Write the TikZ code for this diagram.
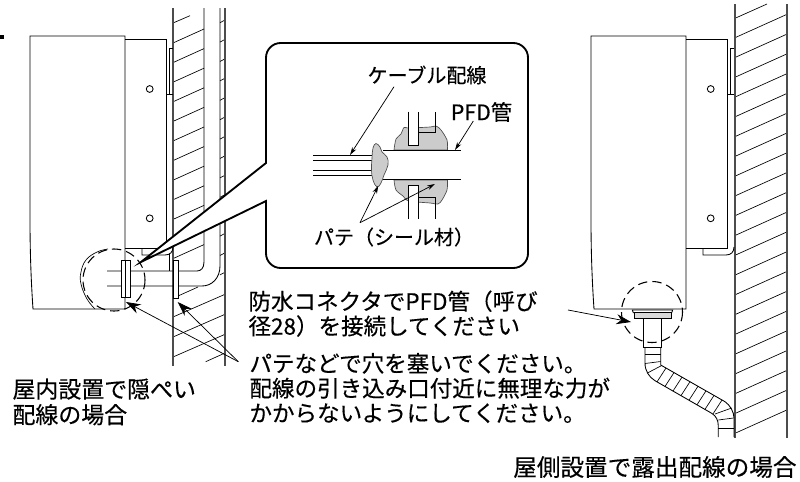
\documentclass[tikz,border=0pt]{standalone}
\usepackage{fontspec}
\setmainfont{Noto Sans CJK JP}[FakeBold=0.35]
\usetikzlibrary{arrows.meta}

\tikzset{every picture/.style={line width=0.75pt}}
\tikzset{
	wallline/.style={line width=0.9pt,color=black!70},
	hatchline/.style={line width=0.5pt},
	boxline/.style={line width=0.65pt},
	circledash/.style={line width=0.8pt,dash pattern={on 7pt off 3.8pt}},
	bigarrow/.style={line width=0.55pt,-{Stealth[length=11pt,width=7.5pt]}},
	smallarrow/.style={line width=0.55pt,-{Stealth[length=6pt,width=3.5pt]}},
	bodytext/.style={anchor=north west,inner sep=0pt,align=left,font=\fontsize{16.9}{18.6}\selectfont},
	smalltext/.style={inner sep=0pt,font=\fontsize{15}{18}\selectfont},
	putty/.style={fill=black!20,draw=black!70,line width=0.5pt}
}

\begin{document}
\begin{tikzpicture}[x=0.75pt,y=0.75pt,yscale=-1,xscale=1]
	\useasboundingbox (0,0) rectangle (800,482);

	%Small mark at left edge
	\fill (0,35) rectangle (4,39);

	%Left wall: hatching
	\draw [hatchline] (173,23) -- (190,15.7);
	\foreach \i in {0,...,11} {
		\draw [hatchline] (173,43+19.6*\i) -- (204,29+19.6*\i);
	}
	\foreach \i in {0,...,13} {
		\draw [hatchline] (220,22.7+19.4*\i) -- (225,20+19.4*\i);
	}
	\draw [hatchline] (178,296) -- (198,287);
	\foreach \i in {0,1,2} {
		\draw [hatchline] (173,317+20*\i) -- (225,294.3+20*\i);
	}
	\draw [hatchline] (205.7,361.7) -- (225,353);
	%Left wall: lines and conduit
	\draw [wallline] (173,8) -- (173,366);
	\draw [wallline] (225,8) -- (225,366);
	\draw [boxline] (204,8) -- (204,262) .. controls (204,268) and (201,271) .. (197,271) -- (107,271);
	\draw [boxline] (220,8) -- (220,266) .. controls (220,278) and (212,286) .. (202,286) -- (107,286);

	%Right wall
	\draw [hatchline] (735,18.3) -- (767,4);
	\foreach \i in {0,...,20} {
		\draw [hatchline] (735,37.7+19.78*\i) -- (787,14.3+19.78*\i);
	}
	\draw [wallline] (735,4) -- (735,438);
	\draw [wallline] (787,4) -- (787,438);

	%Unit body, drawn twice
	\foreach \dx in {0,561} {
		\begin{scope}[shift={(\dx,0)}]
			\draw [boxline] (33,309) .. controls (31,280) and (30,250) .. (30,220) -- (30,36) -- (125,36) -- (125,309) -- cycle;
			\draw [boxline] (125,39) -- (166.7,39) -- (166.7,248) -- (125,248);
			\draw [boxline] (149.7,89) circle [radius=3.4];
			\draw [boxline] (149.7,218.3) circle [radius=3.4];
			\draw [line width=0.5pt] (166.7,94.3) -- (173,94.3);
			\draw [line width=0.5pt] (173,48.3) -- (169.5,48.3) -- (169.5,94.3);
			\draw [boxline] (142,248) -- (142,255) -- (165,255) .. controls (170,255) and (173,252) .. (173,247);
		\end{scope}
	}

	%Left connector
	\draw [line width=0.5pt] (169.5,254) -- (169.5,271);
	\fill [black!35] (121,270) -- (121,266) -- (125,260) -- (125,270) -- cycle;
	\fill [black!35] (121,286.7) -- (125,286.7) -- (125,296) -- cycle;
	\draw [fill=white,line width=0.6pt] (121,260.7) rectangle (130,297);
	\draw [fill=white,line width=0.6pt] (173.3,260) rectangle (178,298);
	\draw [boxline] (125.5,260.7) -- (125.5,297);
	%Break line and dashed circle, left
	\draw [line width=0.5pt] plot [smooth,tension=0.7] coordinates {(95,309) (87,299) (81,284) (81,272) (86,260) (97,252) (108,249)};
	\draw [circledash] (114,280) circle [radius=31];

	%Right connector and flexible tube
	\draw [boxline,fill=white] (632.3,310) -- (672.7,310) -- (671.7,312.7) -- (633.3,312.7) -- cycle;
	\draw [boxline,fill=black!15] (634,312.7) rectangle (671.5,318.3);
	\draw [boxline] (643.3,318.3) -- (643.3,347);
	\draw [boxline] (661.7,318.3) -- (661.7,347);
	\draw [boxline] (643.3,347) -- (661.7,347);
	\draw [boxline] (645,347) -- (645,363) .. controls (645,371) and (649,377) .. (655,380.7) -- (711.7,413.3) .. controls (716,416) and (718.3,420) .. (718.3,426) -- (718.3,437);
	\draw [boxline] (660.7,347) -- (660.7,365) -- (725,401.7) .. controls (730,405) and (734,412) .. (734,418) -- (734,437);
	\draw [hatchline] (645,354) -- (660.7,354);
	\draw [hatchline] (645,363.5) -- (660.7,361.5);
	\draw [hatchline] (648,372.7) -- (661.7,365.5);
	\foreach \i in {0,...,7} {
		\draw [hatchline] (666+8*\i,368+4.57*\i) -- (657+8*\i,381.9+4.57*\i);
	}
	\draw [hatchline] (715,414) -- (731.7,408);
	\draw [hatchline] (718.3,420) -- (733.5,418);
	\draw [hatchline] (718.3,428.3) -- (734,428.3);
	\draw [circledash] (652,312) circle [radius=30.5];

	%Call-out
	\draw [fill=white,line width=1.4pt] (266,163) [rounded corners=11] -- (266,43) -- (528,43) -- (528,268) -- (266,268) [sharp corners] -- (266,201) -- (141,262) -- cycle;

	%Detail inside call-out
	\draw [putty] (394,150) -- plot [smooth] coordinates {(394,150) (396,139) (401,134) (404,127.5) (409,128) (430,127) (436,126) (441,130) (447,140) (447.5,150)} -- cycle;
	\draw [putty] (394,180) -- plot [smooth] coordinates {(394,180) (396,190) (403,196) (409,201) (430,203) (438,204) (442,200) (447,190) (447.5,180)} -- cycle;
	\draw [fill=white,line width=0.6pt] (408.3,111.7) -- (408.3,145) -- (418.3,145) -- (418.3,111.7);
	\draw [line width=0.6pt] (418.3,132.7) -- (435,132.7) -- (435,111.7);
	\draw [fill=white,line width=0.6pt] (408.3,219) -- (408.3,185) -- (418.3,185) -- (418.3,219);
	\draw [line width=0.6pt] (418.3,197.3) -- (435,197.3) -- (435,219);
	\draw [line width=0.6pt] (313,155.7) -- (373,155.7);
	\draw [line width=0.6pt] (313,160.7) -- (373,160.7);
	\draw [line width=0.6pt] (313,170) -- (373,170);
	\draw [line width=0.6pt] (313,175) -- (373,175);
	\draw [line width=0.6pt] (383,150.7) -- (461,150.7);
	\draw [line width=0.6pt] (383,179.3) -- (461,179.3);
	\draw [putty] plot [smooth cycle,tension=0.7] coordinates {(373,148) (376,143.5) (380,147) (382,152) (387,157) (388,165) (384,175) (381,183) (377,187) (373,180) (371.5,170) (372,158)};

	%Call-out labels
	\node (labcable) [smalltext] at (427,75) {ケーブル配線};
	\node (labpfd) [smalltext,font=\fontsize{16}{18}\selectfont] at (481.5,112) {PFD管};
	\node (labputty) [smalltext] at (394,237) {パテ（シール材）};
	\coordinate (cablefrom) at (394,86.7);
	\coordinate (cableto) at (350,155);
	\coordinate (pfdfrom) at (473.3,121);
	\coordinate (pfdto) at (455,150);
	\coordinate (puttyfrom) at (360,222.7);
	\coordinate (puttytoa) at (378.3,185.7);
	\coordinate (puttytob) at (435,184);
	\draw [smallarrow] (cablefrom) -- (cableto);
	\draw [smallarrow] (pfdfrom) -- (pfdto);
	\draw [smallarrow] (puttyfrom) -- (puttytoa);
	\draw [smallarrow] (puttyfrom) -- (puttytob);

	%Outer labels
	\node (labjoint) [bodytext] at (248,290) {防水コネクタでPFD管（呼び\\径28）を接続してください};
	\node (labseal) [bodytext] at (249,352.5) {パテなどで穴を塞いでください。\\配線の引き込み口付近に無理な力が\\かからないようにしてください。};
	\node (labindoor) [bodytext,font=\fontsize{17.2}{19.2}\selectfont] at (12,378) {屋内設置で隠ぺい\\配線の場合};
	\node (laboutdoor) [bodytext,anchor=east,font=\fontsize{17.7}{19}\selectfont] at (797,467) {屋側設置で露出配線の場合};

	%Outer arrows
	\coordinate (sealfrom) at (238.3,361.7);
	\coordinate (sealtoa) at (126,302);
	\coordinate (sealtob) at (177.7,302);
	\coordinate (jointfrom) at (568,310);
	\coordinate (jointto) at (631,322);
	\draw [bigarrow] (sealfrom) -- (sealtoa);
	\draw [bigarrow] (sealfrom) -- (sealtob);
	\draw [bigarrow] (jointfrom) -- (jointto);
\end{tikzpicture}
\end{document}
